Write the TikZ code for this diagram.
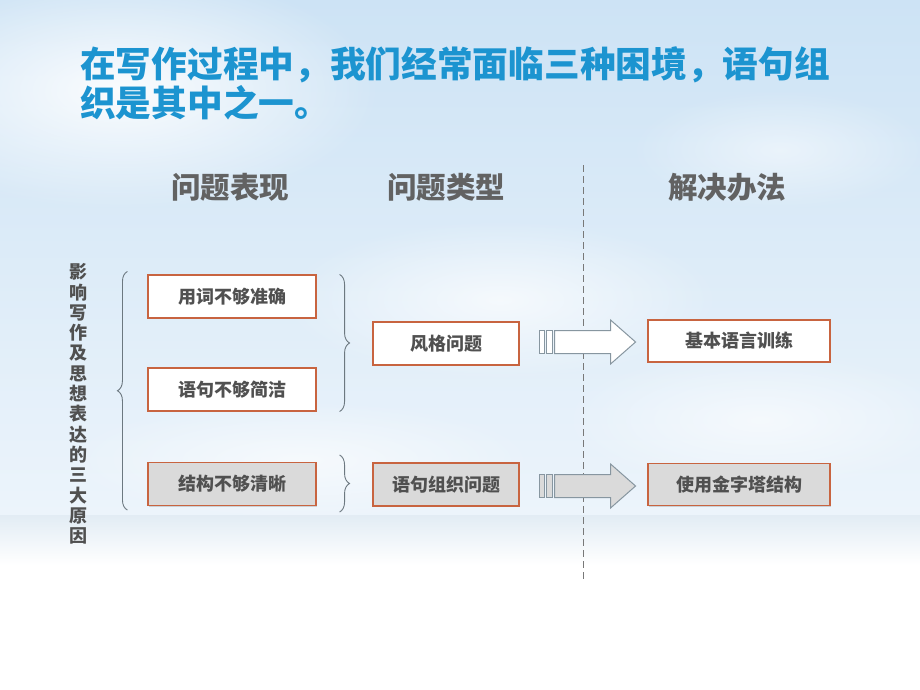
\documentclass[tikz,border=0pt]{standalone}
\usepackage{fontspec}
\newfontfamily\cjk{Noto Sans CJK SC}
\usetikzlibrary{decorations.pathreplacing,shadows,calc,fadings}
\definecolor{titleblue}{RGB}{28,148,208}
\definecolor{txtgray}{RGB}{80,80,80}
\definecolor{hdrgray}{RGB}{98,98,98}
\definecolor{boxborder}{RGB}{200,100,64}
\definecolor{boxgray}{RGB}{218,218,218}
\definecolor{arrowline}{RGB}{135,150,160}
\definecolor{skyblue}{RGB}{205,227,245}
\definecolor{skylight}{RGB}{236,244,251}
\definecolor{bandblue}{RGB}{226,236,244}
\definecolor{dashgray}{RGB}{120,120,120}
\tikzfading[name=cloudfade, inner color=transparent!0, outer color=transparent!100]
\tikzset{
  probbox/.style={draw=boxborder, line width=1.1pt, fill=white, minimum width=168pt, minimum height=43pt,
    inner sep=0pt, font=\cjk\bfseries\fontsize{18}{20}\selectfont, text=txtgray,
    drop shadow={opacity=0.3, shadow xshift=1.2pt, shadow yshift=-1.2pt}},
  graybox/.style={probbox, fill=boxgray},
  typebox/.style={probbox, minimum width=146pt},
  solbox/.style={probbox, minimum width=182pt, minimum height=42pt},
  header/.style={font=\cjk\bfseries\fontsize{29.5}{31}\selectfont, text=hdrgray},
  bracestyle/.style={draw=arrowline!80!black, line width=0.9pt, decorate,
    decoration={brace, amplitude=10pt}},
  arrowbody/.style={draw=arrowline, line width=1pt, line join=miter},
}
\newcommand{\blockarrow}[2]{%
  \begin{scope}[shift={(#1)}]
    \draw[arrowbody, fill=#2] (0,-11.5) rectangle (5,11.5);
    \draw[arrowbody, fill=#2] (7,-11.5) rectangle (13,11.5);
    \draw[arrowbody, fill=#2] (15,-11.5) -- (71,-11.5) -- (71,-22) -- (96,0) -- (71,22) -- (71,11.5) -- (15,11.5) -- cycle;
  \end{scope}}
\begin{document}
\begin{tikzpicture}[x=1pt,y=-1pt]
\useasboundingbox (0,0) rectangle (920,690);
% background
\shade[top color=skyblue, bottom color=skylight] (0,0) rectangle (920,515);
\shade[top color=bandblue, bottom color=white] (0,515) rectangle (920,565);
\fill[white] (0,565) rectangle (920,690);
\fill[white, path fading=cloudfade, opacity=0.9] (120,90) ellipse (260 and 120);
\fill[white, path fading=cloudfade, opacity=0.7] (500,300) ellipse (220 and 80);
\fill[white, path fading=cloudfade, opacity=0.6] (760,420) ellipse (200 and 70);
\fill[white, path fading=cloudfade, opacity=0.6] (300,460) ellipse (240 and 60);
\fill[white, path fading=cloudfade, opacity=0.5] (780,150) ellipse (150 and 60);

% title
\node[anchor=west, font=\cjk\bfseries\fontsize{35.7}{38}\selectfont, text=titleblue, inner sep=0pt] (title1) at (80,65) {在写作过程中，我们经常面临三种困境，语句组};
\node[anchor=west, font=\cjk\bfseries\fontsize{35.7}{38}\selectfont, text=titleblue, inner sep=0pt] (title2) at (80,103) {织是其中之一。};

% headers
\node[header] (h1) at (230,187) {问题表现};
\node[header] (h2) at (446,187) {问题类型};
\node[header] (h3) at (727,187) {解决办法};

% dashed divider
\coordinate (dtop) at (583,165);
\coordinate (dbot) at (583,582);
\draw[dashgray, dashed, line width=1pt, dash pattern=on 7pt off 4pt] (dtop) -- (dbot);

% left vertical label
\node[font=\cjk\bfseries\fontsize{18}{20.3}\selectfont, text=txtgray, align=center, inner sep=0pt] (side) at (78,404)
  {影\\响\\写\\作\\及\\思\\想\\表\\达\\的\\三\\大\\原\\因};

% problem boxes
\node[probbox] (b1) at (232,296.5) {用词不够准确};
\node[probbox] (b2) at (232,389.5) {语句不够简洁};
\node[graybox] (b3) at (232,484) {结构不够清晰};

% type boxes
\node[typebox] (t1) at (446,343.5) {风格问题};
\node[typebox, fill=boxgray] (t2) at (446,484.5) {语句组织问题};

% solution boxes
\node[solbox] (s1) at (739,341) {基本语言训练};
\node[solbox, fill=boxgray] (s2) at (739,484.5) {使用金字塔结构};

% braces
\draw[bracestyle] ($(b3.south west)+(-20,4)$) -- ($(b1.north west)+(-20,-3)$);
\draw[bracestyle] ($(b1.north east)+(23,0)$) -- ($(b2.south east)+(23,0)$);
\draw[bracestyle] ($(b3.north east)+(23,-7)$) -- ($(b3.south east)+(23,6)$);

% arrows
\blockarrow{$(t1.east)+(20,-1.5)$}{white}
\blockarrow{$(t2.east)+(20,1.5)$}{boxgray}
\end{tikzpicture}
\end{document}
